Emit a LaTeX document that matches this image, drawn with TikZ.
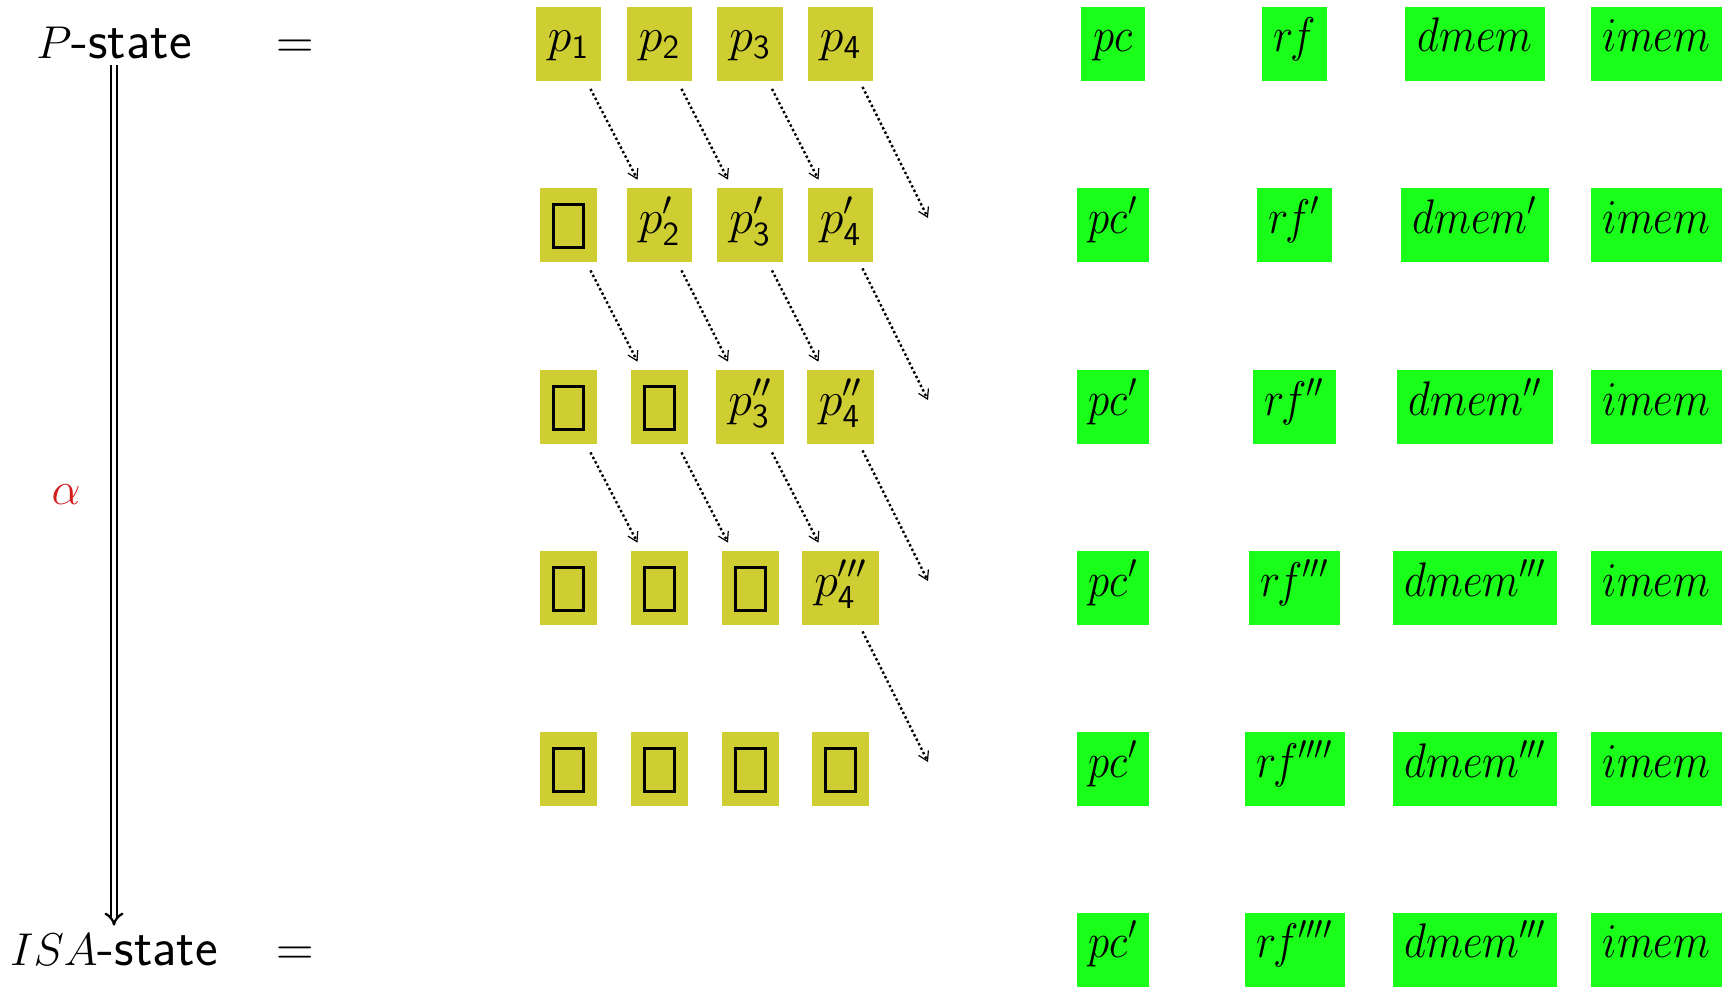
\RequirePackage{fix-cm}
\documentclass[tikz,border=0pt]{standalone}
\usepackage{amsmath}
\usepackage{graphicx}
\usetikzlibrary{arrows.meta,calc}
\definecolor{ybox}{RGB}{206,206,50}
\definecolor{gbox}{RGB}{26,255,26}
\definecolor{alphared}{RGB}{210,30,30}
\newcommand{\nobox}{\raisebox{-6.5pt}{\setlength{\fboxsep}{0pt}\setlength{\fboxrule}{1.5pt}\fbox{\rule{0pt}{20pt}\rule{13.5pt}{0pt}}}}
\newcommand{\sd}[1]{\mathsf{#1}}
\newcommand{\tall}[1]{\scalebox{1}[1.13]{#1}}
\newcommand{\rF}{r\mkern-1.5mu f}
\begin{document}
\begin{tikzpicture}[x=0.5pt,y=-0.5pt,
  yb/.style={fill=ybox, font=\fontsize{24}{28}\selectfont, text height=13pt, text depth=5pt, inner xsep=6pt, inner ysep=9.5pt},
  gb/.style={fill=gbox, font=\fontsize{21.5}{25}\selectfont, text height=13pt, text depth=5pt, inner xsep=6pt, inner ysep=9.5pt},
  lab/.style={font=\fontsize{23}{28}\selectfont, text height=16pt, text depth=0pt, inner xsep=0pt, inner ysep=3.5pt},
  flow/.style={line width=1.2pt, dash pattern=on 1.2pt off 1.3pt, -{Straight Barb[length=4.5pt,width=5.5pt,line width=0.6pt]}},
  dbl/.style={double, line width=1.15pt, double distance=2pt, -{Implies}}]
\useasboundingbox (0,0) rectangle (1729,987);
% left labels
\node[lab] (pst) at (114,42) {$P$\fontsize{27}{30}\selectfont\textsf{-state}};
\node[lab] (isa) at (114,949) {$ISA$\fontsize{27}{30}\selectfont\textsf{-state}};
\node[lab, font=\fontsize{26}{30}\selectfont] (eq1) at (295,42) {$=$};
\node[lab, font=\fontsize{26}{30}\selectfont] (eq2) at (295,949) {$=$};
\node[lab, text=alphared] (al) at (66,488) {$\alpha$};
\draw[dbl] (pst) -- (isa);
% pipeline boxes
\node[yb] (y11) at (568.5,43.5) {$p_{\sd{1}}$};
\node[yb] (y12) at (659.5,43.5) {$p_{\sd{2}}$};
\node[yb] (y13) at (750,43.5) {$p_{\sd{3}}$};
\node[yb] (y14) at (840.5,43.5) {$p_{\sd{4}}$};
\node[yb] (y21) at (568.5,225) {\nobox};
\node[yb] (y22) at (659.5,225) {$p'_{\sd{2}}$};
\node[yb] (y23) at (750,225) {$p'_{\sd{3}}$};
\node[yb] (y24) at (840.5,225) {$p'_{\sd{4}}$};
\node[yb] (y31) at (568.5,407) {\nobox};
\node[yb] (y32) at (659.5,407) {\nobox};
\node[yb] (y33) at (750,407) {$p''_{\sd{3}}$};
\node[yb] (y34) at (840.5,407) {$p''_{\sd{4}}$};
\node[yb] (y41) at (568.5,588) {\nobox};
\node[yb] (y42) at (659.5,588) {\nobox};
\node[yb] (y43) at (750,588) {\nobox};
\node[yb] (y44) at (840.5,588) {$p'''_{\sd{4}}$};
\node[yb] (y51) at (568.5,769) {\nobox};
\node[yb] (y52) at (659.5,769) {\nobox};
\node[yb] (y53) at (750,769) {\nobox};
\node[yb] (y54) at (840.5,769) {\nobox};
% free ends
\coordinate (e2) at (928,218);
\coordinate (e3) at (928,400);
\coordinate (e4) at (928,581);
\coordinate (e5) at (928,762);
% flow arrows
\foreach \a/\b in {y11/y22, y12/y23, y13/y24, y21/y32, y22/y33, y23/y34, y31/y42, y32/y43, y33/y44}
  \draw[flow] ($(\a.south)+(22,8)$) -- ($(\b.north)+(-22,-8)$);
\foreach \a/\b in {y14/e2, y24/e3, y34/e4, y44/e5}
  \draw[flow] ($(\a.south)+(22,6)$) -- (\b);
% state boxes
\node[gb] (g11) at (1113,43.5) {\tall{$pc$}};
\node[gb] (g12) at (1294.5,43.5) {\tall{$\rF$}};
\node[gb] (g13) at (1475,43.5) {\tall{$dmem$}};
\node[gb] (g14) at (1656.5,43.5) {\tall{$imem$}};
\node[gb] (g21) at (1113,225) {\tall{$pc'$}};
\node[gb] (g22) at (1294.5,225) {\tall{$\rF'$}};
\node[gb] (g23) at (1475,225) {\tall{$dmem'$}};
\node[gb] (g24) at (1656.5,225) {\tall{$imem$}};
\node[gb] (g31) at (1113,407) {\tall{$pc'$}};
\node[gb] (g32) at (1294.5,407) {\tall{$\rF''$}};
\node[gb] (g33) at (1475,407) {\tall{$dmem''$}};
\node[gb] (g34) at (1656.5,407) {\tall{$imem$}};
\node[gb] (g41) at (1113,588) {\tall{$pc'$}};
\node[gb] (g42) at (1294.5,588) {\tall{$\rF'''$}};
\node[gb] (g43) at (1475,588) {\tall{$dmem'''$}};
\node[gb] (g44) at (1656.5,588) {\tall{$imem$}};
\node[gb] (g51) at (1113,769) {\tall{$pc'$}};
\node[gb] (g52) at (1294.5,769) {\tall{$\rF''''$}};
\node[gb] (g53) at (1475,769) {\tall{$dmem'''$}};
\node[gb] (g54) at (1656.5,769) {\tall{$imem$}};
\node[gb] (g61) at (1113,949.5) {\tall{$pc'$}};
\node[gb] (g62) at (1294.5,949.5) {\tall{$\rF''''$}};
\node[gb] (g63) at (1475,949.5) {\tall{$dmem'''$}};
\node[gb] (g64) at (1656.5,949.5) {\tall{$imem$}};
\end{tikzpicture}
\end{document}
